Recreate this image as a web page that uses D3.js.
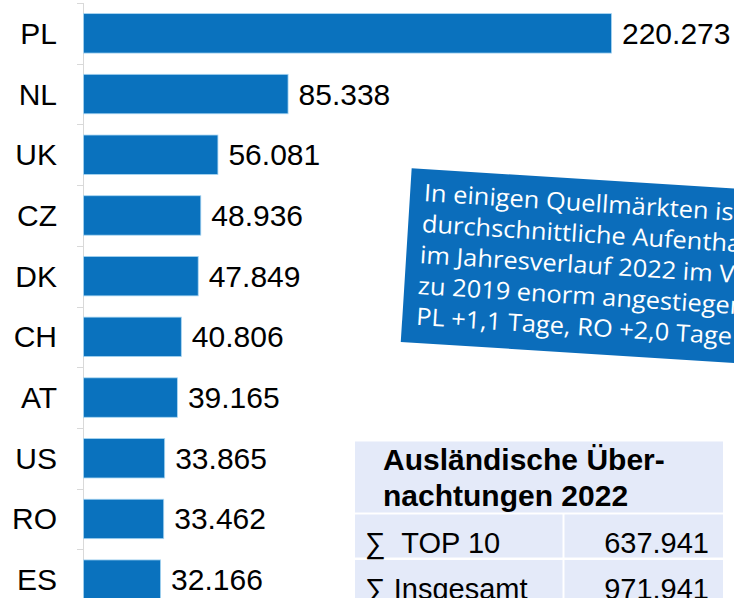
<!DOCTYPE html>
<html>
<head>
<meta charset="utf-8">
<script src="https://cdn.jsdelivr.net/npm/d3@7"></script>
<style>
  body { margin: 0; background: #fff; }
  svg { display: block; font-family: "Liberation Sans", Arial, sans-serif; }
</style>
</head>
<body>
<div id="chart"></div>
<script>
"use strict";

// top 10 source markets, overnight stays 2022
const countries = ["PL", "NL", "UK", "CZ", "DK", "CH", "AT", "US", "RO", "ES"];
const stays = [220273, 85338, 56081, 48936, 47849, 40806, 39165, 33865, 33462, 32166];

// callout text (runs off the right edge like in the original)
const noteLines = [
  "In einigen Quellmärkten ist die",
  "durchschnittliche Aufenthaltsdauer",
  "im Jahresverlauf 2022 im Vergleich",
  "zu 2019 enorm angestiegen:",
  "PL +1,1 Tage, RO +2,0 Tage"
];

// summary table
const tableTitle = ["Ausländische Über-", "nachtungen 2022"];
const tableRows = [["∑  TOP 10", "637.941"], ["∑ Insgesamt", "971.941"]];

const width = 734, height = 598;
const fmt = d3.format(",d");
const de = v => fmt(v).replace(/,/g, ".");

const svg = d3.select("#chart").append("svg")
  .attr("width", width)
  .attr("height", height);

const x = d3.scaleLinear().domain([0, 220273]).range([83, 611]);
const y = d3.scaleBand().domain(countries).range([3, 610])
  .paddingInner(0.35).paddingOuter(0.175);

// axis line + ticks between categories
const axis = svg.append("g").attr("stroke", "#d9d9d9").attr("stroke-width", 1);
axis.append("line")
  .attr("x1", 83.5).attr("x2", 83.5)
  .attr("y1", 3).attr("y2", height);
const bounds = d3.range(countries.length + 1).map(i => 3 + i * y.step());
axis.selectAll("line.tick")
  .data(bounds)
  .join("line")
    .attr("class", "tick")
    .attr("x1", 77).attr("x2", 83)
    .attr("y1", d => Math.round(d) + 0.5)
    .attr("y2", d => Math.round(d) + 0.5);

// bars
svg.append("g")
  .selectAll("rect")
  .data(stays)
  .join("rect")
    .attr("x", x(0) + 0.5)
    .attr("y", (d, i) => y(countries[i]))
    .attr("width", d => x(d) - x(0))
    .attr("height", y.bandwidth())
    .attr("fill", "#0a72be")
    .attr("stroke", "#a9d6f2")
    .attr("stroke-width", 0.8);

// category labels
svg.append("g")
  .selectAll("text")
  .data(countries)
  .join("text")
    .attr("x", 57)
    .attr("y", d => y(d) + y.bandwidth() / 2)
    .attr("dy", "0.35em")
    .attr("text-anchor", "end")
    .style("font-size", "30px")
    .text(d => d);

// value labels
svg.append("g")
  .selectAll("text")
  .data(stays)
  .join("text")
    .attr("x", d => x(d) + 11)
    .attr("y", (d, i) => y(countries[i]) + y.bandwidth() / 2)
    .attr("dy", "0.35em")
    .style("font-size", "30px")
    .text(d => de(d));

// rotated callout
const note = svg.append("g")
  .attr("transform", "translate(411.7,168.3) rotate(3.6)");
note.append("rect")
  .attr("width", 420).attr("height", 174)
  .attr("fill", "#0b6dbb");
note.append("g")
  .attr("transform", "scale(1.06,1)")
  .selectAll("text")
  .data(noteLines)
  .join("text")
    .attr("x", 13)
    .attr("y", (d, i) => 32 + i * 31)
    .attr("fill", "#fff")
    .style("font-family", "'Open Sans', sans-serif")
    .style("font-size", "24px")
    .text(d => d);

// summary table
const tbl = svg.append("g");
const bg = "#e4eaf9";
tbl.append("rect").attr("x", 355).attr("y", 441.5).attr("width", 368).attr("height", 71).attr("fill", bg);
tableRows.forEach((r, i) => {
  const top = 514.5 + i * 45.5;
  tbl.append("rect").attr("x", 355).attr("y", top).attr("width", 207.5).attr("height", 43).attr("fill", bg);
  tbl.append("rect").attr("x", 564.5).attr("y", top).attr("width", 158.5).attr("height", 43).attr("fill", bg);
  tbl.append("text").attr("x", 365).attr("y", top + 38.5)
    .style("white-space", "pre")
    .style("font-size", "29px").text(r[0]);
  tbl.append("text").attr("x", 709).attr("y", top + 38.5)
    .attr("text-anchor", "end")
    .style("font-size", "29px").text(r[1]);
});
tbl.selectAll("text.title")
  .data(tableTitle)
  .join("text")
    .attr("class", "title")
    .attr("x", 383)
    .attr("y", (d, i) => 469.5 + i * 36)
    .style("font-size", "30px")
    .style("font-weight", "bold")
    .text(d => d);
</script>
</body>
</html>
